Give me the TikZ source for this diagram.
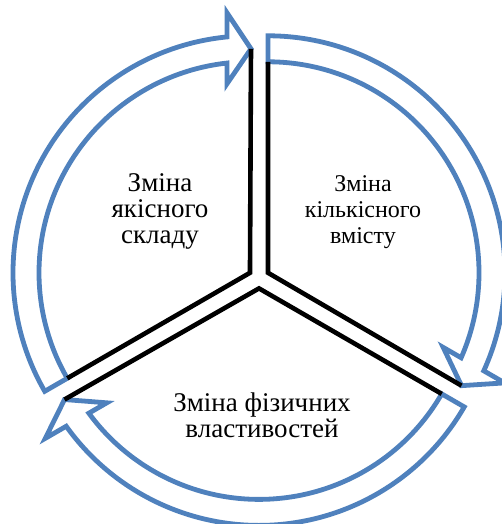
\documentclass[tikz,border=0pt]{standalone}
\usepackage{fontspec}
\setmainfont{Liberation Serif}
\definecolor{cycleblue}{HTML}{4F81BD}

\begin{document}
\begin{tikzpicture}[x=1pt, y=1pt,
  arrowband/.style={draw=cycleblue, line width=4.8pt, fill=white, line join=miter},
  spoke/.style={draw=black, line width=4.6pt},
  sectortext/.style={align=center, inner sep=0pt, font=\fontsize{27}{26}\selectfont}]
  \useasboundingbox (-259,-246) rectangle (243,278);

  % Define dimensions
  \def\gap{10.4}
  \def\rin{211}
  \def\rout{237}

  % Draw sectors (arrow band + black edges)
  \foreach \rot/\bis in {0/150, -120/30, 120/270} {
    \begin{scope}[shift={(\bis:\gap)}, rotate=\rot]
      \draw[arrowband] (210:\rout) arc[start angle=210, end angle=95.57, radius=\rout]
        -- (-23,260) -- (1,224) -- (-23,189) -- (-23,209.74)
        arc[start angle=96.26, end angle=210, radius=\rin] -- cycle;
      \draw[spoke] (210:\rin) -- (0,0) -- (1,224);
    \end{scope}
  }

  % Labels
  \node[sectortext] (quality) at (-99,67) {Зміна\\якісного\\складу};
  \node[sectortext, font=\fontsize{24}{26}\selectfont] (quantity) at (104,66) {Зміна\\кількісного\\вмісту};
  \node[sectortext] (physical) at (3,-137) {Зміна фізичних\\властивостей};
\end{tikzpicture}
\end{document}
